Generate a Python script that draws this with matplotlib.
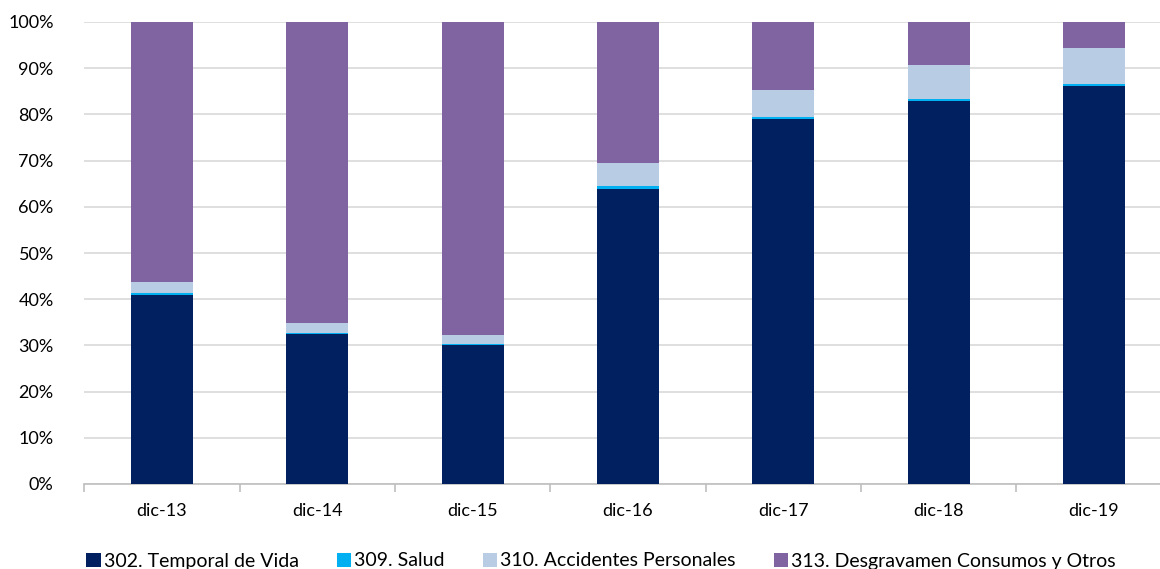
import matplotlib
matplotlib.use("Agg")
import matplotlib.pyplot as plt
import numpy as np
from matplotlib.ticker import PercentFormatter, FixedLocator

categories = ["dic-13", "dic-14", "dic-15", "dic-16", "dic-17", "dic-18", "dic-19"]
temporal_vida = [41.0, 32.4, 30.0, 63.9, 78.9, 83.0, 86.1]
salud = [0.3, 0.3, 0.3, 0.5, 0.5, 0.4, 0.5]
accidentes = [2.4, 2.1, 1.9, 5.0, 5.9, 7.4, 7.7]
desgravamen = [56.3, 65.2, 67.8, 30.6, 14.7, 9.2, 5.7]

series = [
    ("302. Temporal de Vida", temporal_vida, "#002060"),
    ("309. Salud", salud, "#00B0F0"),
    ("310. Accidentes Personales", accidentes, "#B8CCE4"),
    ("313. Desgravamen Consumos y Otros", desgravamen, "#8064A2"),
]

plt.rcParams['font.family'] = ['Lato', 'DejaVu Sans']

fig = plt.figure(figsize=(11.6, 5.69), dpi=100)
W, H = 1160, 569
x0, x1 = 84.3, 1171.7
ytop, ybot = 22, 484
ax = fig.add_axes([x0 / W, 1 - ybot / H, (x1 - x0) / W, (ybot - ytop) / H])

x = np.arange(len(categories))
bottom = np.zeros(len(categories))
handles = []
for name, vals, col in series:
    v = np.array(vals)
    b = ax.bar(x, v, 0.4, bottom=bottom, color=col, label=name, zorder=3,
               edgecolor=col, linewidth=0)
    handles.append(b)
    bottom += v

ax.set_xlim(-0.5, len(categories) - 0.5)
ax.set_ylim(0, 100)
ax.set_yticks(np.arange(0, 101, 10))
ax.yaxis.set_major_formatter(PercentFormatter(decimals=0))
ax.grid(axis='y', color='#D9D9D9', linewidth=1.2, zorder=0)
for s in ['top', 'right', 'left']:
    ax.spines[s].set_visible(False)
ax.spines['bottom'].set_color('#BFBFBF')
ax.spines['bottom'].set_linewidth(1.2)
ax.set_xticks(x)
ax.set_xticklabels(categories)
ax.xaxis.set_minor_locator(FixedLocator(np.arange(-0.5, len(categories), 1)))
ax.tick_params(axis='x', which='major', length=0, pad=14, labelsize=13, colors='#000000')
ax.tick_params(axis='x', which='minor', length=6, color='#BFBFBF', width=1.2)
ax.tick_params(axis='y', length=0, pad=22, labelsize=13, colors='#000000')

fig.legend(handles=handles, labels=[s[0] for s in series], loc='center',
           bbox_to_anchor=(601 / W, 1 - 561 / H), ncol=4, frameon=False,
           fontsize=14, handlelength=0.75, handleheight=0.75, handletextpad=0.15,
           columnspacing=1.95, borderpad=0)

fig.savefig("out.png", dpi=100)
